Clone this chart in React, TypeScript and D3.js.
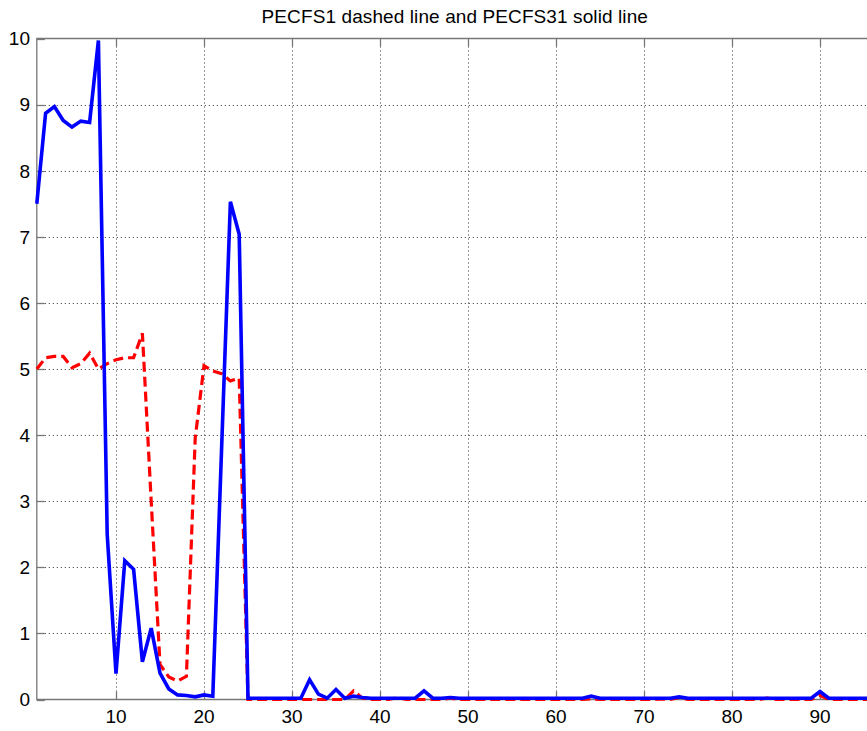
import * as d3 from "d3";
import React, { useEffect, useRef } from "react";

// PECFS1 (dashed, red) and PECFS31 (solid, blue), one value per index 1..96
const pecfs1: number[] = [
    5.0, 5.17, 5.19, 5.19, 5.02, 5.08, 5.24, 5.0, 5.08, 5.14,
    5.17, 5.17, 5.54, 3.0, 0.53, 0.34, 0.28, 0.35, 3.95, 5.05,
    4.97, 4.93, 4.82, 4.86, 0.0, 0, 0, 0, 0, 0,
    0, 0, 0, 0, 0, 0, 0.13, 0.02, 0, 0,
    0, 0.03, 0, 0, 0, 0, 0, 0.02, 0, 0,
    0, 0, 0, 0, 0, 0, 0, 0, 0, 0,
    0, 0, 0, 0.01, 0, 0, 0, 0, 0, 0,
    0, 0.01, 0, 0.03, 0, 0, 0, 0, 0, 0,
    0, 0, 0, 0.02, 0, 0, 0, 0, 0, 0.06,
    0, 0, 0, 0, 0, 0,
];

const pecfs31: number[] = [
    7.5, 8.87, 8.97, 8.76, 8.66, 8.75, 8.73, 9.97, 2.5, 0.39,
    2.1, 1.97, 0.57, 1.08, 0.4, 0.16, 0.07, 0.06, 0.04, 0.07,
    0.05, 3.8, 7.53, 7.04, 0.02, 0.02, 0.02, 0.02, 0.02, 0.02,
    0.02, 0.3, 0.08, 0.02, 0.15, 0.02, 0.05, 0.03, 0.02, 0.02,
    0.02, 0.02, 0.02, 0.02, 0.13, 0.02, 0.02, 0.03, 0.02, 0.02,
    0.02, 0.02, 0.02, 0.02, 0.02, 0.02, 0.02, 0.02, 0.02, 0.02,
    0.02, 0.02, 0.02, 0.05, 0.02, 0.02, 0.02, 0.02, 0.02, 0.02,
    0.02, 0.02, 0.02, 0.04, 0.02, 0.02, 0.02, 0.02, 0.02, 0.02,
    0.02, 0.02, 0.02, 0.02, 0.02, 0.02, 0.02, 0.02, 0.02, 0.12,
    0.02, 0.02, 0.02, 0.02, 0.02, 0.02,
];

const xTicks = [10, 20, 30, 40, 50, 60, 70, 80, 90];
const yTicks = [0, 1, 2, 3, 4, 5, 6, 7, 8, 9, 10];
const title = "PECFS1 dashed line and PECFS31 solid line";

const WIDTH = 867;
const HEIGHT = 731;
const FONT = "'Liberation Sans', Arial, Helvetica, sans-serif";

const App: React.FC = () => {
    const svgRef = useRef<SVGSVGElement>(null);

    useEffect(() => {
        if (!svgRef.current) return;
        const svg = d3.select(svgRef.current);
        svg.selectAll("*").remove();

        const left = 36.8;
        const top = 38.5;
        const bottom = 699.5;

        // axes run on past the right edge of the window
        const xScale = d3.scaleLinear().domain([1, 96]).range([left, left + 95 * 8.8]);
        const yScale = d3.scaleLinear().domain([0, 10]).range([bottom, top]);
        const right = xScale(96);

        svg.append("rect")
            .attr("width", WIDTH)
            .attr("height", HEIGHT)
            .attr("fill", "#fff");

        // dotted grid
        const grid = svg.append("g")
            .attr("stroke", "#333")
            .attr("stroke-width", 1)
            .attr("stroke-dasharray", "1,3");
        xTicks.forEach((t) => {
            grid.append("line")
                .attr("x1", Math.round(xScale(t)) + 0.5)
                .attr("x2", Math.round(xScale(t)) + 0.5)
                .attr("y1", top)
                .attr("y2", bottom);
        });
        yTicks.slice(1, -1).forEach((t) => {
            grid.append("line")
                .attr("x1", left)
                .attr("x2", right)
                .attr("y1", Math.round(yScale(t)) + 0.5)
                .attr("y2", Math.round(yScale(t)) + 0.5);
        });

        // box and inward ticks
        const axis = svg.append("g").attr("stroke", "#777").attr("stroke-width", 1.3).attr("fill", "none");
        axis.append("path").attr("d", `M${right},${top}H${left}V${bottom}H${right}`);
        xTicks.forEach((t) => {
            const x = Math.round(xScale(t)) + 0.5;
            axis.append("line").attr("x1", x).attr("x2", x).attr("y1", bottom).attr("y2", bottom - 8);
            axis.append("line").attr("x1", x).attr("x2", x).attr("y1", top).attr("y2", top + 8);
        });
        yTicks.forEach((t) => {
            const y = Math.round(yScale(t)) + 0.5;
            axis.append("line").attr("x1", left).attr("x2", left + 8).attr("y1", y).attr("y2", y);
        });

        // tick labels
        svg.append("g")
            .selectAll("text")
            .data(xTicks)
            .join("text")
            .attr("x", (d) => xScale(d))
            .attr("y", 722.5)
            .attr("text-anchor", "middle")
            .attr("font-family", FONT)
            .attr("font-size", 19)
            .attr("fill", "#000")
            .text((d) => d);

        svg.append("g")
            .selectAll("text")
            .data(yTicks)
            .join("text")
            .attr("x", 30)
            .attr("y", (d) => yScale(d))
            .attr("dy", "0.36em")
            .attr("text-anchor", "end")
            .attr("font-family", FONT)
            .attr("font-size", 19)
            .attr("fill", "#000")
            .text((d) => d);

        svg.append("text")
            .attr("x", (left + right) / 2)
            .attr("y", 23)
            .attr("text-anchor", "middle")
            .attr("font-family", FONT)
            .attr("font-size", 19)
            .attr("letter-spacing", 0.1)
            .attr("fill", "#000")
            .text(title);

        const lineGenerator = d3
            .line<number>()
            .x((_, i) => xScale(i + 1))
            .y((d) => yScale(d));

        svg.append("path")
            .datum(pecfs1)
            .attr("fill", "none")
            .attr("stroke", "#ff0000")
            .attr("stroke-width", 3.2)
            .attr("stroke-dasharray", "10,5")
            .attr("stroke-linejoin", "miter")
            .attr("d", lineGenerator);

        svg.append("path")
            .datum(pecfs31)
            .attr("fill", "none")
            .attr("stroke", "#0000ff")
            .attr("stroke-width", 3.6)
            .attr("stroke-linejoin", "miter")
            .attr("d", lineGenerator);
    }, []);

    return (
        <svg
            ref={svgRef}
            width={WIDTH}
            height={HEIGHT}
            style={{ position: "absolute", left: 0, top: 0, display: "block" }}
        />
    );
};

export default App;
